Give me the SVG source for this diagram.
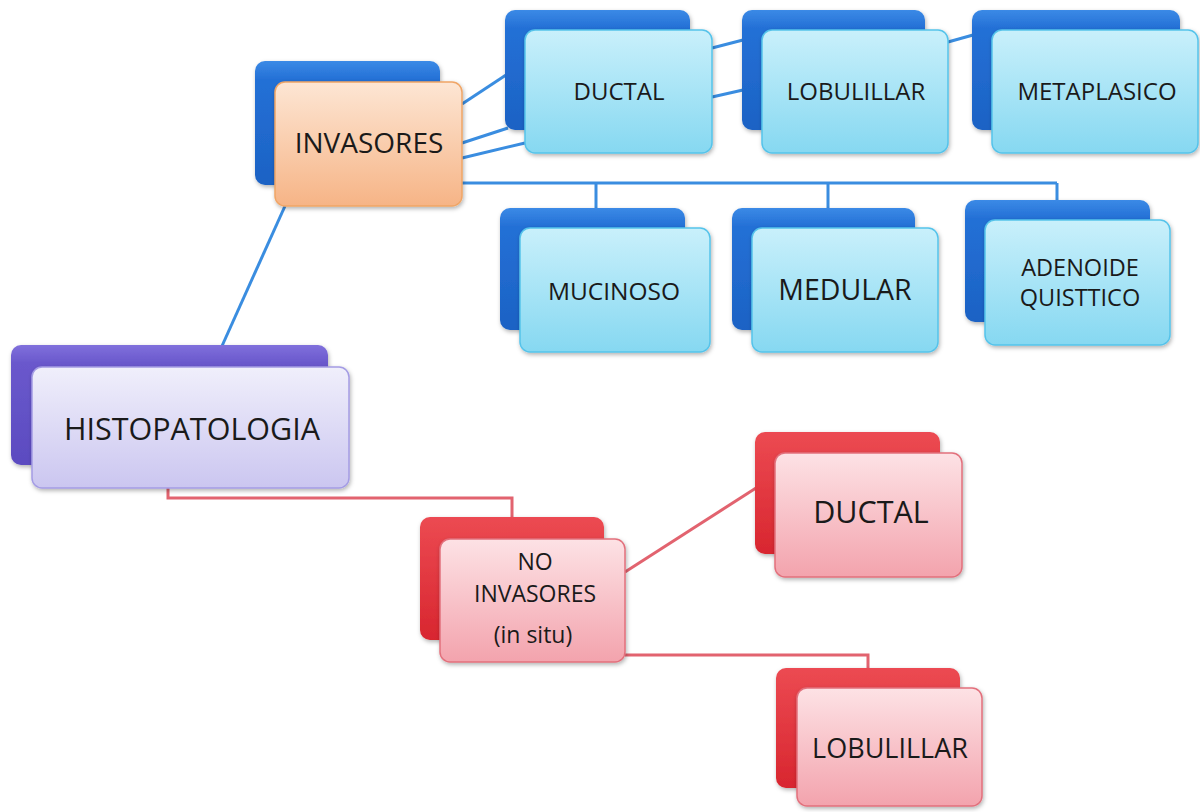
<svg xmlns="http://www.w3.org/2000/svg" width="1200" height="812" viewBox="0 0 1200 812">
<defs>
<linearGradient id="gBlueBack" x1="0" y1="0" x2="0" y2="1"><stop offset="0" stop-color="#3b8ae6"/><stop offset="0.15" stop-color="#2470d6"/><stop offset="1" stop-color="#1c62c4"/></linearGradient>
<linearGradient id="gBlueFront" x1="0" y1="0" x2="0" y2="1"><stop offset="0" stop-color="#c9f0fb"/><stop offset="1" stop-color="#86d8f1"/></linearGradient>
<linearGradient id="gOrange" x1="0" y1="0" x2="0" y2="1"><stop offset="0" stop-color="#fde6d4"/><stop offset="1" stop-color="#f6b486"/></linearGradient>
<linearGradient id="gPurpleBack" x1="0" y1="0" x2="0" y2="1"><stop offset="0" stop-color="#8070dc"/><stop offset="0.15" stop-color="#6a58cc"/><stop offset="1" stop-color="#5b4bc0"/></linearGradient>
<linearGradient id="gPurpleFront" x1="0" y1="0" x2="0" y2="1"><stop offset="0" stop-color="#f0effb"/><stop offset="1" stop-color="#cbc6f0"/></linearGradient>
<linearGradient id="gRedBack" x1="0" y1="0" x2="0" y2="1"><stop offset="0" stop-color="#ec4a52"/><stop offset="1" stop-color="#d8262f"/></linearGradient>
<linearGradient id="gRedFront" x1="0" y1="0" x2="0" y2="1"><stop offset="0" stop-color="#fde2e5"/><stop offset="1" stop-color="#f3a3ad"/></linearGradient>
<filter id="sh" x="-10%" y="-10%" width="125%" height="125%"><feDropShadow dx="1" dy="2" stdDeviation="2" flood-color="#000" flood-opacity="0.3"/></filter>
</defs>
<style>
.bb{fill:url(#gBlueBack);filter:url(#sh)}
.bf{fill:url(#gBlueFront);stroke:#55c3ea;stroke-width:1.5;filter:url(#sh)}
.of{fill:url(#gOrange);stroke:#f0a566;stroke-width:1.5;filter:url(#sh)}
.pb{fill:url(#gPurpleBack);filter:url(#sh)}
.pf{fill:url(#gPurpleFront);stroke:#a49ce4;stroke-width:1.5;filter:url(#sh)}
.rb{fill:url(#gRedBack);filter:url(#sh)}
.rf{fill:url(#gRedFront);stroke:#e2707c;stroke-width:1.5;filter:url(#sh)}
.t{font-family:"Open Sans","Liberation Sans",sans-serif;fill:#1a1a1a;text-anchor:middle}
.cb{stroke:#3a8de0;stroke-width:3;fill:none}
.cr{stroke:#e2636f;stroke-width:3;fill:none}
</style>
<g id="connectors">
<line class="cb" x1="285" y1="206" x2="222" y2="346"/>
<line class="cb" x1="462" y1="104" x2="506" y2="75"/>
<line class="cb" x1="462" y1="143" x2="508" y2="128"/>
<line class="cb" x1="462" y1="158" x2="525" y2="143"/>
<line class="cb" x1="712" y1="48" x2="743" y2="40"/>
<line class="cb" x1="712" y1="97" x2="743" y2="90"/>
<line class="cb" x1="948" y1="42" x2="973" y2="35"/>
<path class="cb" d="M462 183 H1057 M596 183 V208 M828 183 V208 M1057 183 V201"/>
<path class="cr" d="M168 488 V498 H512 V518"/>
<line class="cr" x1="625" y1="572" x2="756" y2="488"/>
<path class="cr" d="M625 655 H868 V668"/>
</g>
<g id="invasores">
<rect class="bb" x="255" y="61" width="185" height="124" rx="10"/>
<rect class="of" x="275" y="82" width="187" height="124" rx="10"/>
<text class="t" x="369" y="153" font-size="28">INVASORES</text>
</g>
<g id="ductal-inv">
<rect class="bb" x="505" y="10" width="185" height="120" rx="10"/>
<rect class="bf" x="525" y="30" width="187" height="123" rx="10"/>
<text class="t" x="619" y="100" font-size="24">DUCTAL</text>
</g>
<g id="lobulillar-inv">
<rect class="bb" x="742" y="10" width="183" height="120" rx="10"/>
<rect class="bf" x="762" y="30" width="186" height="123" rx="10"/>
<text class="t" x="856" y="100" font-size="24">LOBULILLAR</text>
</g>
<g id="metaplasico">
<rect class="bb" x="972" y="10" width="208" height="120" rx="10"/>
<rect class="bf" x="992" y="30" width="206" height="123" rx="10"/>
<text class="t" x="1097" y="100" font-size="24">METAPLASICO</text>
</g>
<g id="mucinoso">
<rect class="bb" x="500" y="208" width="185" height="122" rx="10"/>
<rect class="bf" x="520" y="228" width="190" height="124" rx="10"/>
<text class="t" x="614" y="300" font-size="24.5">MUCINOSO</text>
</g>
<g id="medular">
<rect class="bb" x="732" y="208" width="183" height="122" rx="10"/>
<rect class="bf" x="752" y="228" width="186" height="124" rx="10"/>
<text class="t" x="845" y="300" font-size="28.5">MEDULAR</text>
</g>
<g id="adenoide">
<rect class="bb" x="965" y="200" width="185" height="122" rx="10"/>
<rect class="bf" x="985" y="220" width="185" height="125" rx="10"/>
<text class="t" x="1080" y="276" font-size="23.5">ADENOIDE</text>
<text class="t" x="1080" y="306" font-size="23.5">QUISTTICO</text>
</g>
<g id="histopatologia">
<rect class="pb" x="11" y="345" width="317" height="120" rx="10"/>
<rect class="pf" x="32" y="367" width="317" height="121" rx="10"/>
<text class="t" x="192" y="440" font-size="30.5">HISTOPATOLOGIA</text>
</g>
<g id="no-invasores">
<rect class="rb" x="420" y="517" width="184" height="123" rx="10"/>
<rect class="rf" x="440" y="539" width="185" height="123" rx="10"/>
<text class="t" x="535" y="570" font-size="23">NO</text>
<text class="t" x="535" y="602" font-size="23">INVASORES</text>
<text class="t" x="533" y="643" font-size="23">(in situ)</text>
</g>
<g id="ductal-noinv">
<rect class="rb" x="755" y="432" width="185" height="122" rx="10"/>
<rect class="rf" x="775" y="453" width="187" height="124" rx="10"/>
<text class="t" x="871" y="523" font-size="30.5">DUCTAL</text>
</g>
<g id="lobulillar-noinv">
<rect class="rb" x="776" y="668" width="184" height="120" rx="10"/>
<rect class="rf" x="797" y="688" width="185" height="118" rx="10"/>
<text class="t" x="890" y="758" font-size="27">LOBULILLAR</text>
</g>
</svg>
